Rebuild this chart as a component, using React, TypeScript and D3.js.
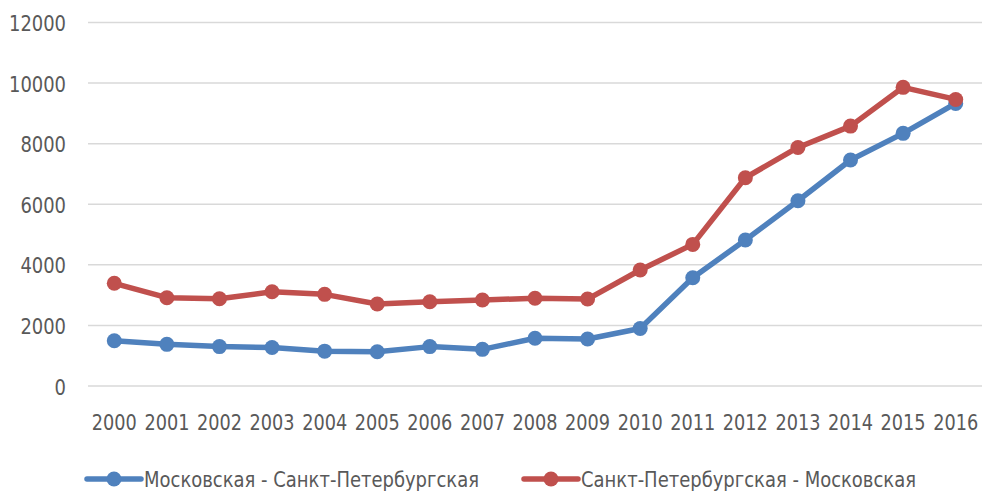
import React from "react";
import * as d3 from "d3";

const years = ["2000","2001","2002","2003","2004","2005","2006","2007","2008","2009","2010","2011","2012","2013","2014","2015","2016"];
const mskSpb = [1495,1375,1300,1270,1150,1130,1300,1210,1575,1550,1900,3575,4820,6115,7460,8340,9330];
const spbMsk = [3390,2915,2880,3110,3025,2705,2780,2840,2895,2870,3830,4675,6875,7875,8580,9860,9460];
const yTicks = [0,2000,4000,6000,8000,10000,12000];
const seriesNames = ["Московская - Санкт-Петербургская", "Санкт-Петербургская - Московская"];
const colors = ["#4F81BD", "#C0504D"];

const W = 983, H = 491;
const FONT = "'Liberation Sans Narrow', 'DejaVu Sans Condensed', 'Liberation Sans', sans-serif";

export default function App() {
  const x = d3.scalePoint<string>().domain(years).range([88, 982]).padding(0.5);
  const y = d3.scaleLinear().domain([0, 12000]).range([386, 22.5]);
  const line = d3.line<number>().x((_, i) => x(years[i])!).y(d => y(d));
  const series = [mskSpb, spbMsk];
  const legendX = [87, 524];
  return (
    <svg width={W} height={H} style={{ position: "absolute", left: 0, top: 0, background: "#fff" }}>
      {yTicks.map(t => (
        <g key={t}>
          <line x1={88} x2={982} y1={y(t)} y2={y(t)} stroke="#d9d9d9" strokeWidth={1.5} />
          <text x={66} y={y(t) + 8.5} textAnchor="end" fontFamily={FONT} fontSize={22} fill="#595959"
            textLength={String(t).length * 11.4} lengthAdjust="spacingAndGlyphs">{t}</text>
        </g>
      ))}
      {years.map(yr => (
        <text key={yr} x={x(yr)!} y={430} textAnchor="middle" fontFamily={FONT} fontSize={22} fill="#595959"
          textLength={45} lengthAdjust="spacingAndGlyphs">{yr}</text>
      ))}
      {series.map((s, si) => (
        <g key={si}>
          <path d={line(s)!} fill="none" stroke={colors[si]} strokeWidth={5.5} strokeLinejoin="round" />
          {s.map((v, i) => (
            <circle key={i} cx={x(years[i])!} cy={y(v)} r={7.5} fill={colors[si]} />
          ))}
        </g>
      ))}
      {seriesNames.map((n, i) => {
        const lx = legendX[i];
        return (
          <g key={n}>
            <line x1={lx} x2={lx + 54} y1={479} y2={479} stroke={colors[i]} strokeWidth={5.5} strokeLinecap="round" />
            <circle cx={lx + 27} cy={479} r={7.5} fill={colors[i]} />
            <text x={lx + 57} y={486.5} fontFamily={FONT} fontSize={22} fill="#595959"
              textLength={335} lengthAdjust="spacingAndGlyphs">{n}</text>
          </g>
        );
      })}
    </svg>
  );
}
